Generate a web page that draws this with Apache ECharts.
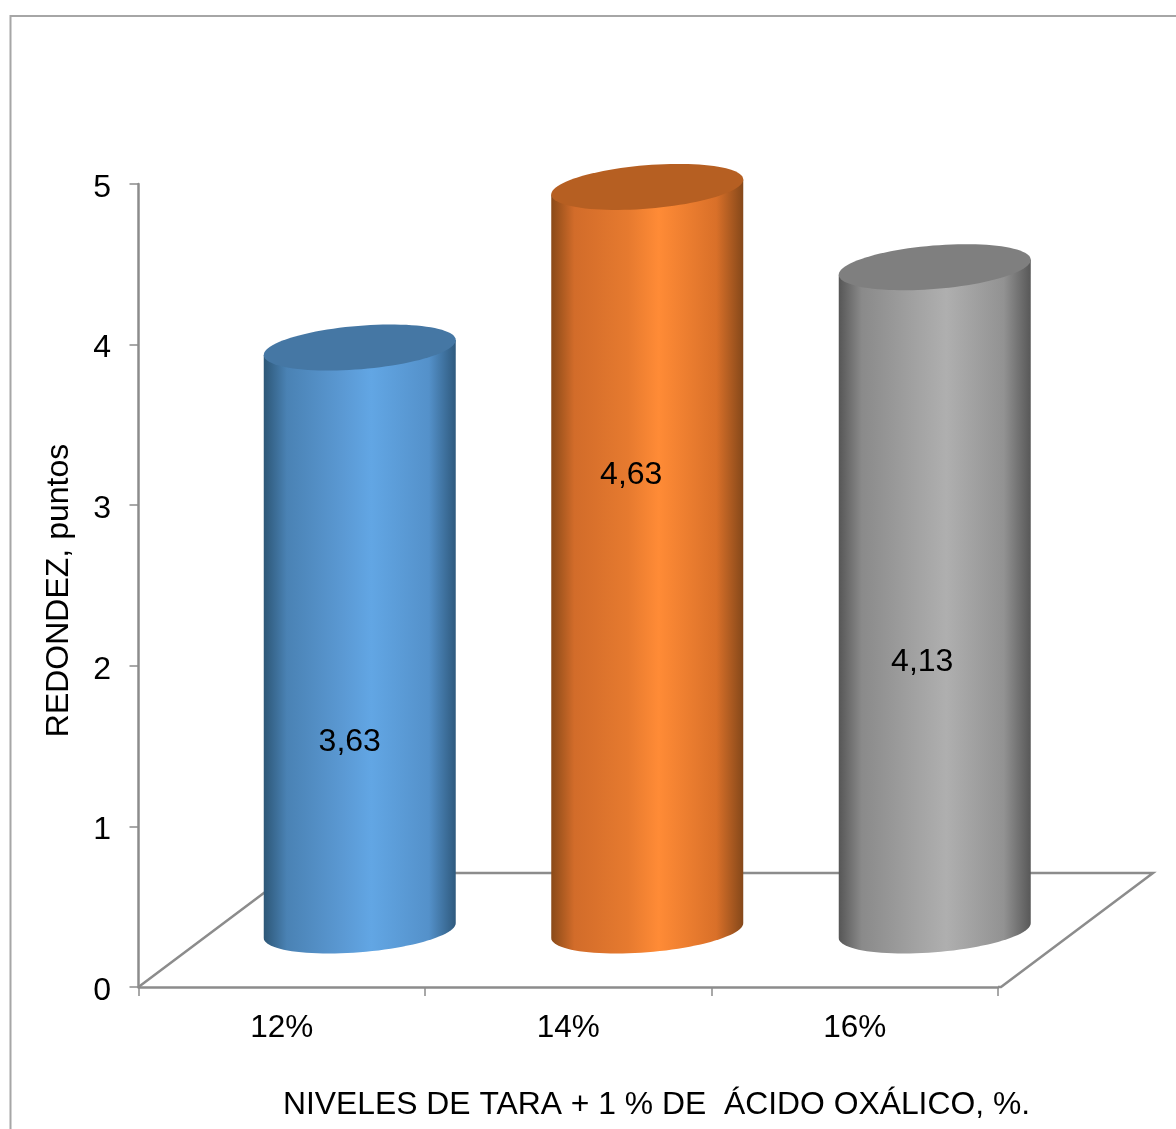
<!DOCTYPE html>
<html>
<head>
<meta charset="utf-8">
<style>html,body{margin:0;padding:0;background:#fff}#chart{width:1176px;height:1129px}</style>
<script src="https://cdn.jsdelivr.net/npm/echarts@6/dist/echarts.min.js"></script>
</head>
<body>
<div id="chart"></div>
<script>
const categories = ['12%', '14%', '16%'];
const values = [3.63, 4.63, 4.13];
const yTicks = [0, 5, 1];
const xTitle = 'NIVELES DE TARA + 1 % DE  ÁCIDO OXÁLICO, %.';
const yTitle = 'REDONDEZ, puntos';

const FONT = '"Liberation Sans", Arial, sans-serif';
const AXIS_COLOR = '#8c8c8c';

// Oblique projection of the floor: how far the back edge sits from the front edge.
const DEPTH_X = 152, DEPTH_Y = -114;

// Tilted ellipse used for each cylinder's caps.
const CAP_A = 96.3, CAP_B = 21.7, CAP_TILT = 4.7 * Math.PI / 180;

// Shading per cylinder: side stops from left to right, then the flat cap colour.
const shades = [
  { side: ['#2d5777', '#4a82b4', '#5a98d2', '#62a6e4', '#5491ca', '#2f5a7e'], cap: '#4577a4' },
  { side: ['#8a4a18', '#d26c2a', '#e67a2f', '#ff8b36', '#d97029', '#85481a'], cap: '#b65f22' },
  { side: ['#565656', '#8a8a8a', '#a2a2a2', '#afafaf', '#929292', '#585858'], cap: '#7f7f7f' }
];

// Sideways nudge of each cylinder off its band centre, and where its value label sits.
const cylinderNudge = [2, 3, 4];
const labelShift = [[-10, -188], [-16, -455], [-12.5, -268]];

function capPoint(cx, cy, t) {
  const c = Math.cos(t), s = Math.sin(t);
  return [
    cx + CAP_A * c * Math.cos(CAP_TILT) + CAP_B * s * Math.sin(CAP_TILT),
    cy - CAP_A * c * Math.sin(CAP_TILT) + CAP_B * s * Math.cos(CAP_TILT)
  ];
}

function renderFloor(params, api) {
  const band = api.size([1, 0])[0];
  const base = api.coord([0, 0]);
  const x0 = base[0] - band / 2;
  const x1 = x0 + band * categories.length;
  const y0 = base[1];
  return {
    type: 'polyline',
    shape: { points: [[x0, y0], [x0 + DEPTH_X, y0 + DEPTH_Y], [x1 + DEPTH_X + 3, y0 + DEPTH_Y], [x1 + 3, y0], [x1, y0]] },
    style: { stroke: AXIS_COLOR, lineWidth: 2.5, fill: null }
  };
}

function renderCylinder(params, api) {
  const i = api.value(0);
  const value = api.value(1);
  const base = api.coord([i, 0]);
  const top = api.coord([i, value]);
  const cx = base[0] + DEPTH_X / 2 + cylinderNudge[i];
  const by = base[1] + DEPTH_Y / 2 + 0.5;
  const ty = top[1] + DEPTH_Y / 2 + 0.5;
  const t0 = Math.atan2(CAP_B * Math.sin(CAP_TILT), CAP_A * Math.cos(CAP_TILT));

  const body = [capPoint(cx, ty, t0)];
  for (let k = 0; k <= 48; k++) body.push(capPoint(cx, by, t0 + Math.PI * k / 48));
  body.push(capPoint(cx, ty, t0 + Math.PI));

  const cap = [];
  for (let k = 0; k < 96; k++) cap.push(capPoint(cx, ty, Math.PI * 2 * k / 96));

  const shade = shades[i];
  const offsets = [0, 0.12, 0.4, 0.56, 0.86, 1];
  const gradient = new echarts.graphic.LinearGradient(0, 0, 1, 0,
    shade.side.map((color, k) => ({ offset: offsets[k], color })));

  return {
    type: 'group',
    children: [
      { type: 'polygon', shape: { points: body }, style: { fill: gradient } },
      { type: 'polygon', shape: { points: cap }, style: { fill: shade.cap } },
      {
        type: 'text',
        style: {
          text: value.toFixed(2).replace('.', ','),
          x: cx + labelShift[i][0],
          y: by + labelShift[i][1],
          align: 'center',
          verticalAlign: 'middle',
          font: '32px ' + FONT,
          fill: '#000'
        }
      }
    ]
  };
}

const chart = echarts.init(document.getElementById('chart'), null, { renderer: 'canvas' });
chart.setOption({
  animation: false,
  backgroundColor: '#fff',
  grid: { left: 138.5, top: 184, width: 859.5, height: 803 },
  title: {
    text: xTitle,
    left: 283,
    top: 1089,
    padding: 0,
    textStyle: { fontFamily: FONT, fontSize: 31.85, fontWeight: 'normal', color: '#000' }
  },
  graphic: [
    {
      type: 'polyline',
      silent: true,
      shape: { points: [[10.5, 1129], [10.5, 16], [1176, 16]] },
      style: { stroke: '#a6a6a6', lineWidth: 2, fill: null }
    },
    {
      type: 'text',
      silent: true,
      x: 59,
      y: 590.5,
      rotation: Math.PI / 2,
      style: {
        text: yTitle,
        align: 'center',
        verticalAlign: 'middle',
        font: '32px ' + FONT,
        fill: '#000'
      }
    }
  ],
  xAxis: {
    type: 'category',
    data: categories,
    boundaryGap: true,
    axisLine: { lineStyle: { color: AXIS_COLOR, width: 2.5 } },
    axisTick: { show: true, alignWithLabel: false, length: 9, lineStyle: { color: AXIS_COLOR, width: 1.5 } },
    axisLabel: { color: '#000', fontFamily: FONT, fontSize: 31.5, margin: 25 }
  },
  yAxis: {
    type: 'value',
    min: yTicks[0],
    max: yTicks[1],
    interval: yTicks[2],
    splitLine: { show: false },
    axisLine: { show: true, lineStyle: { color: AXIS_COLOR, width: 2.5 } },
    axisTick: { show: true, length: 9, lineStyle: { color: AXIS_COLOR, width: 1.5 } },
    // A short line box hanging from the tick sets the digits slightly below it.
    axisLabel: { color: '#000', fontFamily: FONT, fontSize: 32, margin: 27.5, verticalAlign: 'top', lineHeight: 8 }
  },
  series: [
    {
      type: 'custom',
      coordinateSystem: 'cartesian2d',
      silent: true,
      z: 1,
      renderItem: renderFloor,
      data: [[0, 0]]
    },
    {
      type: 'custom',
      coordinateSystem: 'cartesian2d',
      silent: true,
      z: 2,
      renderItem: renderCylinder,
      encode: { x: 0, y: 1 },
      data: values.map((v, i) => [i, v])
    }
  ]
});
</script>
</body>
</html>
